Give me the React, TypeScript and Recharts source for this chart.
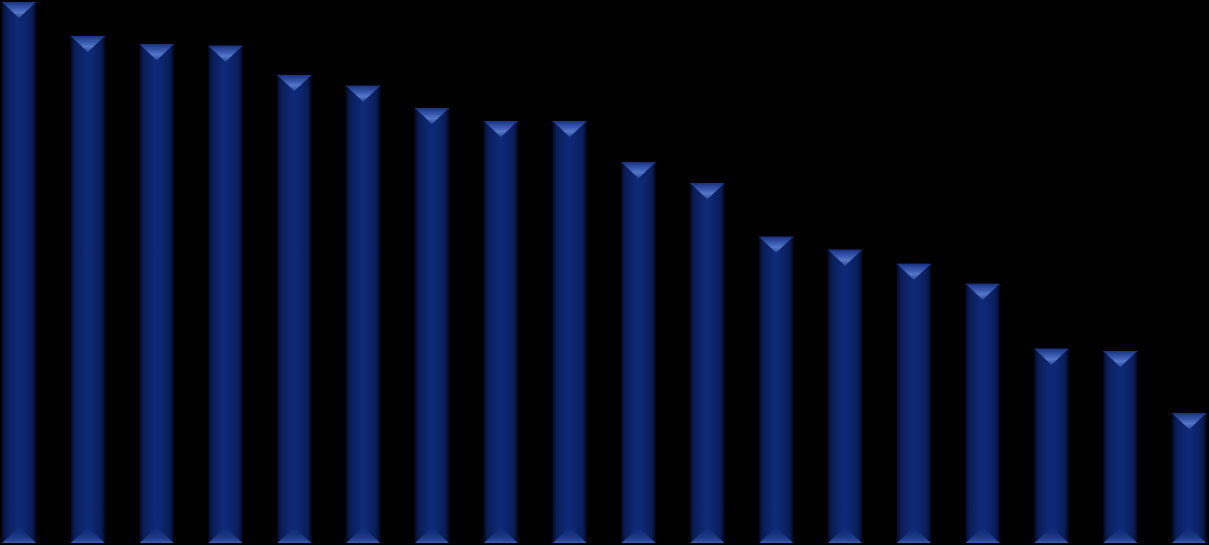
import React from "react";
import { BarChart, Bar, XAxis, YAxis } from "recharts";

// no labels are shown in the picture, so the categories are just placeholders
const categories = [
  "1", "2", "3", "4", "5", "6", "7", "8", "9",
  "10", "11", "12", "13", "14", "15", "16", "17", "18",
];
const values = [
  100, 93.7, 92.2, 91.9, 86.5, 84.5, 80.4, 78.0, 78.0,
  70.4, 66.5, 56.6, 54.2, 51.6, 47.9, 35.9, 35.5, 24.0,
];

const chartData = categories.map((name, i) => ({ name, value: values[i] }));

// beveled bar: shaded body, light triangle on top, faint triangle at the bottom
const BevelBar = (props: any) => {
  const { x, y, width, height } = props;
  if (!height || height <= 0) return null;
  const depth = Math.min(width / 2 - 1, 16, height / 2);
  const cx = x + width / 2;
  const bottom = y + height;
  return (
    <g>
      <rect x={x} y={y} width={width} height={height} fill="url(#bodyGrad)" />
      <polygon
        points={`${x},${y} ${x + width},${y} ${cx},${y + depth}`}
        fill="url(#topGrad)"
      />
      <polygon
        points={`${x},${bottom} ${x + width},${bottom} ${cx},${bottom - depth}`}
        fill="url(#bottomGrad)"
      />
      <rect x={x} y={y} width={width} height={1} fill="#1c3786" />
    </g>
  );
};

export default function App() {
  return (
    <div
      style={{
        position: "absolute",
        left: 0,
        top: 0,
        width: 1209,
        height: 545,
        overflow: "hidden",
        background: "#000",
      }}
    >
      <div style={{ position: "relative", left: -15 }}>
        <BarChart
          width={1239}
          height={545}
          data={chartData}
          margin={{ top: 2, right: 0, bottom: 2, left: 0 }}
          barCategoryGap={0}
        >
          <defs>
            <linearGradient id="bodyGrad" x1="0" y1="0" x2="1" y2="0">
              <stop offset="0%" stopColor="#040c2c" />
              <stop offset="12%" stopColor="#0a1d58" />
              <stop offset="45%" stopColor="#0e2a78" />
              <stop offset="60%" stopColor="#0d2874" />
              <stop offset="88%" stopColor="#0a1d58" />
              <stop offset="100%" stopColor="#030a26" />
            </linearGradient>
            <linearGradient id="topGrad" x1="0" y1="0" x2="0" y2="1">
              <stop offset="0%" stopColor="#1a3483" />
              <stop offset="45%" stopColor="#3e5fb6" />
              <stop offset="65%" stopColor="#5676c6" />
              <stop offset="100%" stopColor="#2a4a9e" />
            </linearGradient>
            <linearGradient id="bottomGrad" x1="0" y1="0" x2="0" y2="1">
              <stop offset="0%" stopColor="#0e2a78" stopOpacity={0.2} />
              <stop offset="80%" stopColor="#2a4a9c" stopOpacity={0.8} />
              <stop offset="100%" stopColor="#3a5ab0" />
            </linearGradient>
          </defs>
          <XAxis dataKey="name" hide />
          <YAxis domain={[0, 100]} hide />
          <Bar
            dataKey="value"
            barSize={34}
            shape={BevelBar}
            isAnimationActive={false}
          />
        </BarChart>
      </div>
    </div>
  );
}
